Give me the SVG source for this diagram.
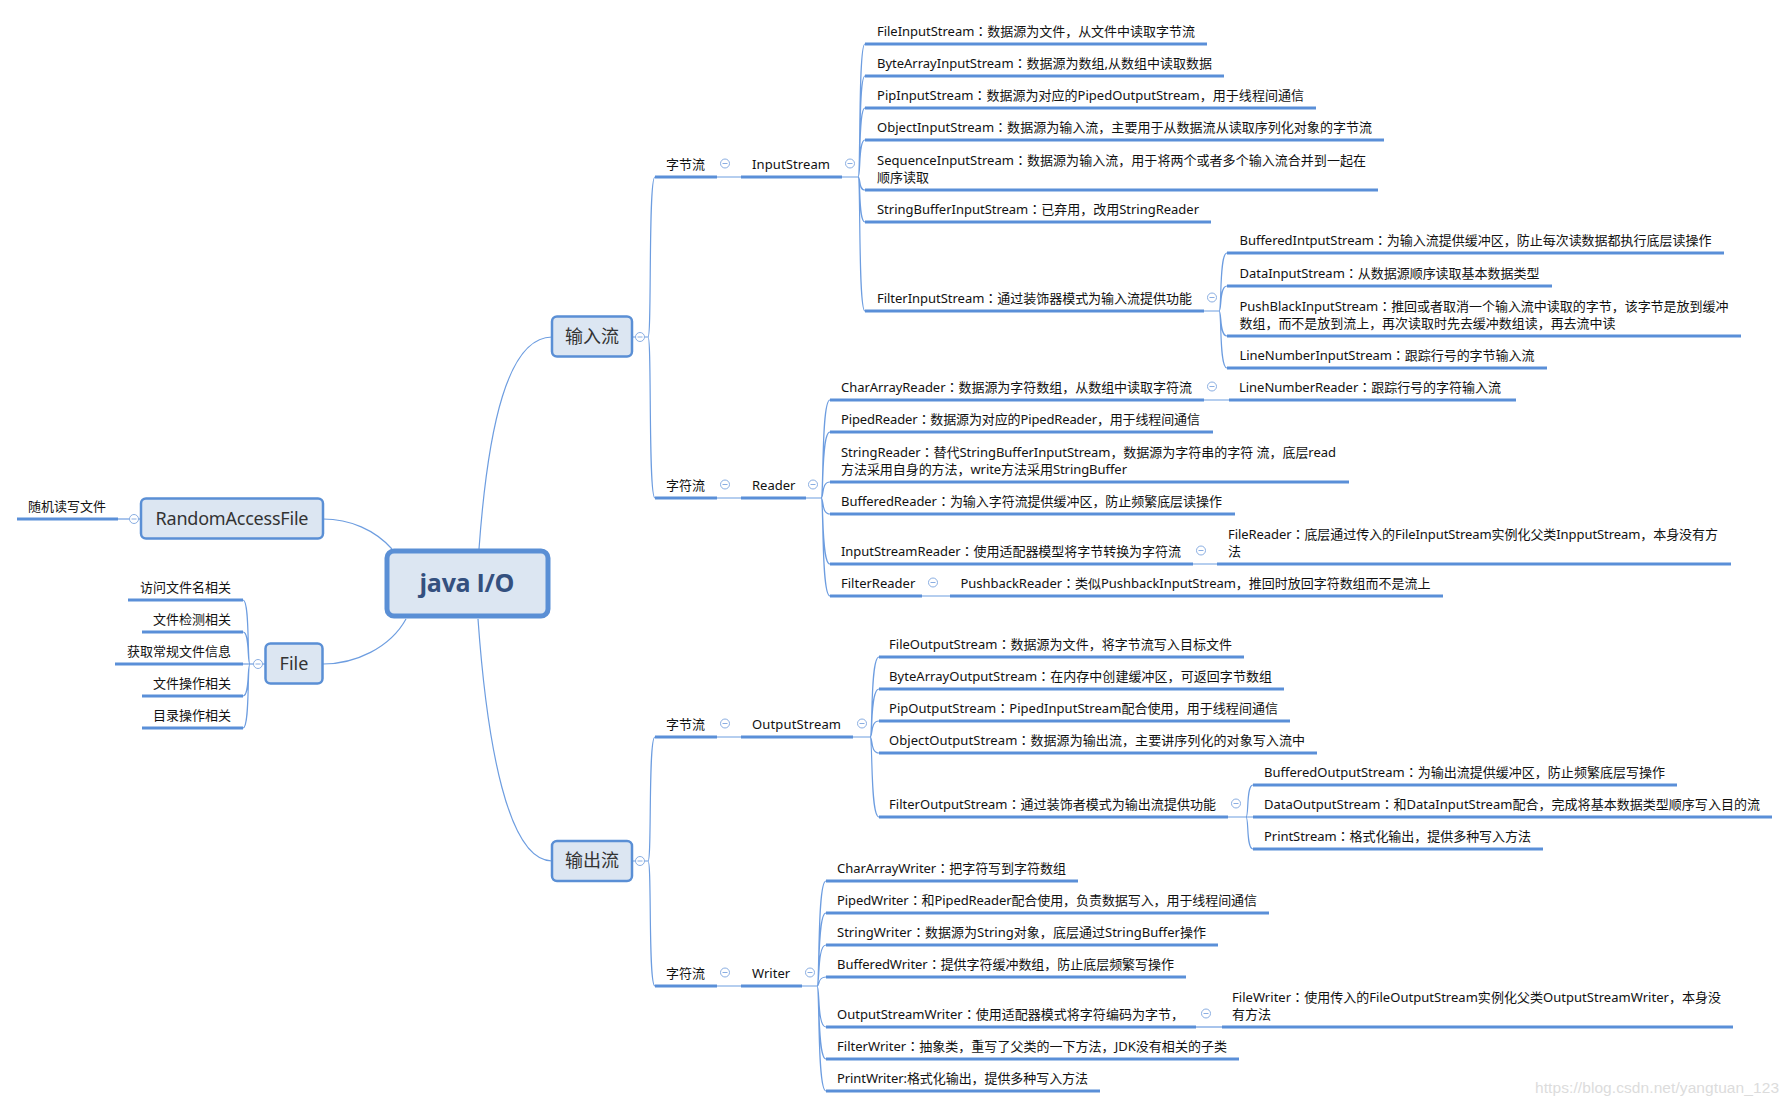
<svg xmlns="http://www.w3.org/2000/svg" xmlns:xlink="http://www.w3.org/1999/xlink" width="1790" height="1108" viewBox="0 0 1790 1108">
<style>
.ul{stroke:#5a8fd8;stroke-width:3}
.cn{fill:none;stroke:#6d9de0;stroke-width:1.2}
.tx{font-family:"Noto Sans","Noto Sans CJK SC",sans-serif;font-size:13px;fill:#111}
.p{font-family:"Noto Sans CJK TC","Noto Sans CJK SC",sans-serif}
.bx{fill:#dce6f2;stroke:#5a8fd5;stroke-width:2.5}
.bt{font-family:"Noto Sans","Noto Sans CJK SC",sans-serif;font-size:18px;fill:#333;text-anchor:middle}
.end{text-anchor:end}
.wm{font-family:"Liberation Sans",Arial,sans-serif;font-size:15.5px;fill:#dcdcdc}
</style>
<defs>
<g id="b"><circle cx="0" cy="0" r="4.5" fill="#fff" stroke="#8aaee2" stroke-width="1"/><line x1="-2.5" y1="0" x2="2.5" y2="0" stroke="#8aaee2" stroke-width="1"/></g>
</defs>
<rect width="1790" height="1108" fill="#fff"/>
<g id="connectors">
<path class="cn" d="M479,549 C488,425 508,337 552,337"/>
<path class="cn" d="M478,619 C487,745 508,861 552,861"/>
<path class="cn" d="M323,519 C350,519 375,530 392,549"/>
<path class="cn" d="M323,664 C355,664 390,648 406,619"/>
<path class="cn" d="M118,519 L141,519"/>
<path class="cn" d="M265,664 L243,664"/>
<path class="cn" d="M250,664 C247,664 250,600 243,600 M250,664 C247,664 250,632 243,632 M250,664 C247,664 250,696 243,696 M250,664 C247,664 250,728 243,728"/>
<path class="cn" d="M633,337 L648,337 M648,337 C652,337 648,177 655,177 M648,337 C652,337 648,498 655,498"/>
<path class="cn" d="M633,861 L648,861 M648,861 C652,861 648,737 655,737 M648,861 C652,861 648,986 655,986"/>
<path class="cn" d="M717,177 L741,177 M717,498 L741,498 M717,737 L741,737 M717,986 L741,986"/>
<path class="cn" d="M842,177 L858,177 M858,177 C861,177 858,44 865,44 M858,177 C861,177 858,76 865,76 M858,177 C861,177 858,108 865,108 M858,177 C861,177 858,140 865,140 M858,177 C861,177 858,190 865,190 M858,177 C861,177 858,222 865,222 M858,177 C861,177 858,311 865,311"/>
<path class="cn" d="M1204,311 L1219,311 M1219,311 C1222,311 1219,253 1227,253 M1219,311 C1222,311 1219,286 1227,286 M1219,311 C1222,311 1219,336 1227,336 M1219,311 C1222,311 1219,368 1227,368"/>
<path class="cn" d="M806,498 L821,498 M821,498 C824,498 821,400 830,400 M821,498 C824,498 821,432 830,432 M821,498 C824,498 821,482 830,482 M821,498 C824,498 821,514 830,514 M821,498 C824,498 821,564 830,564 M821,498 C824,498 821,596 830,596"/>
<path class="cn" d="M1204,400 L1229,400 M1193,564 L1217,564 M922,596 L950,596"/>
<path class="cn" d="M853,737 L870,737 M870,737 C873,737 870,657 879,657 M870,737 C873,737 870,689 879,689 M870,737 C873,737 870,721 879,721 M870,737 C873,737 870,753 879,753 M870,737 C873,737 870,817 879,817"/>
<path class="cn" d="M1228,817 L1253,817 M1246,817 C1249,817 1246,785 1253,785 M1246,817 C1249,817 1246,849 1253,849"/>
<path class="cn" d="M802,986 L817,986 M817,986 C820,986 817,881 826,881 M817,986 C820,986 817,913 826,913 M817,986 C820,986 817,945 826,945 M817,986 C820,986 817,977 826,977 M817,986 C820,986 817,1027 826,1027 M817,986 C820,986 817,1059 826,1059 M817,986 C820,986 817,1091 826,1091"/>
<path class="cn" d="M1196,1027 L1222,1027"/>
</g>

<g id="node-java">
<rect x="387" y="551" width="161" height="65" rx="7" fill="#dce6f2" stroke="#5a8fd5" stroke-width="5"/>
<text x="467" y="592" text-anchor="middle" font-family="'Open Sans','Noto Sans',sans-serif" font-weight="bold" font-size="25" fill="#34507f" textLength="95">java I/O</text>
</g>
<g id="node-input"><rect class="bx" x="552" y="316.5" width="80" height="40" rx="5"/><text class="bt" x="592" y="343">输入流</text><use xlink:href="#b" x="640" y="337"/></g>
<g id="node-output"><rect class="bx" x="552" y="841" width="80" height="40" rx="5"/><text class="bt" x="592" y="867">输出流</text><use xlink:href="#b" x="640" y="861"/></g>
<g id="node-raf"><rect class="bx" x="141" y="498.5" width="182" height="40" rx="5"/><text class="bt" x="232" y="524.5" textLength="153">RandomAccessFile</text><use xlink:href="#b" x="134" y="519"/></g>
<g id="node-file"><rect class="bx" x="265.5" y="643.5" width="57" height="40" rx="5"/><text class="bt" x="294" y="670">File</text><use xlink:href="#b" x="258" y="664"/></g>

<g id="node-raf-1"><line class="ul" x1="17" y1="519" x2="118" y2="519"/><text class="tx" x="28" y="511">随机读写文件</text></g>
<g id="node-file-1"><line class="ul" x1="128" y1="600" x2="243" y2="600"/><text class="tx end" x="231" y="592">访问文件名相关</text></g>
<g id="node-file-2"><line class="ul" x1="142" y1="632" x2="243" y2="632"/><text class="tx end" x="231" y="624">文件检测相关</text></g>
<g id="node-file-3"><line class="ul" x1="115" y1="664" x2="243" y2="664"/><text class="tx end" x="231" y="656">获取常规文件信息</text></g>
<g id="node-file-4"><line class="ul" x1="142" y1="696" x2="243" y2="696"/><text class="tx end" x="231" y="688">文件操作相关</text></g>
<g id="node-file-5"><line class="ul" x1="142" y1="728" x2="243" y2="728"/><text class="tx end" x="231" y="720">目录操作相关</text></g>

<g id="node-in-byte"><line class="ul" x1="655" y1="177" x2="717" y2="177"/><text class="tx" x="666" y="169">字节流</text><use xlink:href="#b" x="725" y="163.5"/></g>
<g id="node-inputstream"><line class="ul" x1="741" y1="177" x2="842" y2="177"/><text class="tx" x="752" y="169" textLength="78">InputStream</text><use xlink:href="#b" x="850" y="163.5"/></g>
<g id="node-fis"><line class="ul" x1="865" y1="44" x2="1207" y2="44"/><text class="tx" x="877" y="36" textLength="318">FileInputStream<tspan class="p">：</tspan>数据源为文件，从文件中读取字节流</text></g>
<g id="node-bais"><line class="ul" x1="865" y1="76" x2="1224" y2="76"/><text class="tx" x="877" y="68" textLength="335">ByteArrayInputStream<tspan class="p">：</tspan>数据源为数组,从数组中读取数据</text></g>
<g id="node-pis"><line class="ul" x1="865" y1="108" x2="1316" y2="108"/><text class="tx" x="877" y="100" textLength="427">PipInputStream<tspan class="p">：</tspan>数据源为对应的PipedOutputStream，用于线程间通信</text></g>
<g id="node-ois"><line class="ul" x1="865" y1="140" x2="1384" y2="140"/><text class="tx" x="877" y="132" textLength="495">ObjectInputStream<tspan class="p">：</tspan>数据源为输入流，主要用于从数据流从读取序列化对象的字节流</text></g>
<g id="node-sis"><line class="ul" x1="865" y1="190" x2="1378" y2="190"/><text class="tx"><tspan x="877" y="165" textLength="489">SequenceInputStream<tspan class="p">：</tspan>数据源为输入流，用于将两个或者多个输入流合并到一起在</tspan><tspan x="877" y="182">顺序读取</tspan></text></g>
<g id="node-sbis"><line class="ul" x1="865" y1="222" x2="1211" y2="222"/><text class="tx" x="877" y="214" textLength="322">StringBufferInputStream<tspan class="p">：</tspan>已弃用，改用StringReader</text></g>
<g id="node-filteris"><line class="ul" x1="865" y1="311" x2="1204" y2="311"/><text class="tx" x="877" y="303" textLength="315">FilterInputStream<tspan class="p">：</tspan>通过装饰器模式为输入流提供功能</text><use xlink:href="#b" x="1212" y="297.5"/></g>
<g id="node-bis"><line class="ul" x1="1227" y1="253" x2="1724" y2="253"/><text class="tx" x="1239.5" y="245" textLength="472">BufferedIntputStream<tspan class="p">：</tspan>为输入流提供缓冲区，防止每次读数据都执行底层读操作</text></g>
<g id="node-dis"><line class="ul" x1="1227" y1="286" x2="1552" y2="286"/><text class="tx" x="1239.5" y="278" textLength="300">DataInputStream<tspan class="p">：</tspan>从数据源顺序读取基本数据类型</text></g>
<g id="node-pbis"><line class="ul" x1="1227" y1="336" x2="1741" y2="336"/><text class="tx"><tspan x="1239.5" y="311" textLength="489">PushBlackInputStream<tspan class="p">：</tspan>推回或者取消一个输入流中读取的字节，该字节是放到缓冲</tspan><tspan x="1239.5" y="328" textLength="376">数组，而不是放到流上，再次读取时先去缓冲数组读，再去流中读</tspan></text></g>
<g id="node-lnis"><line class="ul" x1="1227" y1="368" x2="1547" y2="368"/><text class="tx" x="1239.5" y="360" textLength="295">LineNumberInputStream<tspan class="p">：</tspan>跟踪行号的字节输入流</text></g>

<g id="node-in-char"><line class="ul" x1="655" y1="498" x2="717" y2="498"/><text class="tx" x="666" y="490">字符流</text><use xlink:href="#b" x="725" y="484.5"/></g>
<g id="node-reader"><line class="ul" x1="741" y1="498" x2="806" y2="498"/><text class="tx" x="752" y="490">Reader</text><use xlink:href="#b" x="813" y="484.5"/></g>
<g id="node-car"><line class="ul" x1="830" y1="400" x2="1204" y2="400"/><text class="tx" x="841" y="392" textLength="351">CharArrayReader<tspan class="p">：</tspan>数据源为字符数组，从数组中读取字符流</text><use xlink:href="#b" x="1212" y="386.5"/></g>
<g id="node-lnr"><line class="ul" x1="1229" y1="400" x2="1516" y2="400"/><text class="tx" x="1239" y="392" textLength="262">LineNumberReader<tspan class="p">：</tspan>跟踪行号的字符输入流</text></g>
<g id="node-pr"><line class="ul" x1="830" y1="432" x2="1213" y2="432"/><text class="tx" x="841" y="424" textLength="359">PipedReader<tspan class="p">：</tspan>数据源为对应的PipedReader，用于线程间通信</text></g>
<g id="node-sr"><line class="ul" x1="830" y1="482" x2="1349" y2="482"/><text class="tx"><tspan x="841" y="457" textLength="495">StringReader<tspan class="p">：</tspan>替代StringBufferInputStream，数据源为字符串的字符 流，底层read</tspan><tspan x="841" y="474" textLength="286">方法采用自身的方法，write方法采用StringBuffer</tspan></text></g>
<g id="node-br"><line class="ul" x1="830" y1="514" x2="1235" y2="514"/><text class="tx" x="841" y="506" textLength="381">BufferedReader<tspan class="p">：</tspan>为输入字符流提供缓冲区，防止频繁底层读操作</text></g>
<g id="node-isr"><line class="ul" x1="830" y1="564" x2="1193" y2="564"/><text class="tx" x="841" y="556" textLength="340">InputStreamReader<tspan class="p">：</tspan>使用适配器模型将字节转换为字符流</text><use xlink:href="#b" x="1201" y="550.5"/></g>
<g id="node-fr"><line class="ul" x1="1217" y1="564" x2="1731" y2="564"/><text class="tx"><tspan x="1228" y="539" textLength="490">FileReader<tspan class="p">：</tspan>底层通过传入的FileInputStream实例化父类InpputStream，本身没有方</tspan><tspan x="1228" y="556">法</tspan></text></g>
<g id="node-filterr"><line class="ul" x1="830" y1="596" x2="922" y2="596"/><text class="tx" x="841" y="588">FilterReader</text><use xlink:href="#b" x="933" y="582.5"/></g>
<g id="node-pbr"><line class="ul" x1="950" y1="596" x2="1443" y2="596"/><text class="tx" x="960.5" y="588" textLength="470">PushbackReader<tspan class="p">：</tspan>类似PushbackInputStream，推回时放回字符数组而不是流上</text></g>

<g id="node-out-byte"><line class="ul" x1="655" y1="737" x2="717" y2="737"/><text class="tx" x="666" y="729">字节流</text><use xlink:href="#b" x="725" y="723.5"/></g>
<g id="node-outputstream"><line class="ul" x1="741" y1="737" x2="853" y2="737"/><text class="tx" x="752" y="729" textLength="89">OutputStream</text><use xlink:href="#b" x="862" y="723.5"/></g>
<g id="node-fos"><line class="ul" x1="879" y1="657" x2="1244" y2="657"/><text class="tx" x="889" y="649" textLength="343">FileOutputStream<tspan class="p">：</tspan>数据源为文件，将字节流写入目标文件</text></g>
<g id="node-baos"><line class="ul" x1="879" y1="689" x2="1284" y2="689"/><text class="tx" x="889" y="681" textLength="383">ByteArrayOutputStream<tspan class="p">：</tspan>在内存中创建缓冲区，可返回字节数组</text></g>
<g id="node-pos"><line class="ul" x1="879" y1="721" x2="1290" y2="721"/><text class="tx" x="889" y="713" textLength="389">PipOutputStream<tspan class="p">：</tspan>PipedInputStream配合使用，用于线程间通信</text></g>
<g id="node-oos"><line class="ul" x1="879" y1="753" x2="1317" y2="753"/><text class="tx" x="889" y="745" textLength="416">ObjectOutputStream<tspan class="p">：</tspan>数据源为输出流，主要讲序列化的对象写入流中</text></g>
<g id="node-filteros"><line class="ul" x1="879" y1="817" x2="1228" y2="817"/><text class="tx" x="889" y="809" textLength="327">FilterOutputStream<tspan class="p">：</tspan>通过装饰者模式为输出流提供功能</text><use xlink:href="#b" x="1236" y="803.5"/></g>
<g id="node-bos"><line class="ul" x1="1253" y1="785" x2="1677" y2="785"/><text class="tx" x="1264" y="777" textLength="401">BufferedOutputStream<tspan class="p">：</tspan>为输出流提供缓冲区，防止频繁底层写操作</text></g>
<g id="node-dos"><line class="ul" x1="1253" y1="817" x2="1772" y2="817"/><text class="tx" x="1264" y="809" textLength="496">DataOutputStream<tspan class="p">：</tspan>和DataInputStream配合，完成将基本数据类型顺序写入目的流</text></g>
<g id="node-ps"><line class="ul" x1="1253" y1="849" x2="1543" y2="849"/><text class="tx" x="1264" y="841" textLength="267">PrintStream<tspan class="p">：</tspan>格式化输出，提供多种写入方法</text></g>

<g id="node-out-char"><line class="ul" x1="655" y1="986" x2="717" y2="986"/><text class="tx" x="666" y="978">字符流</text><use xlink:href="#b" x="725" y="972.5"/></g>
<g id="node-writer"><line class="ul" x1="741" y1="986" x2="802" y2="986"/><text class="tx" x="752" y="978">Writer</text><use xlink:href="#b" x="810" y="972.5"/></g>
<g id="node-caw"><line class="ul" x1="826" y1="881" x2="1078" y2="881"/><text class="tx" x="837" y="873" textLength="229">CharArrayWriter<tspan class="p">：</tspan>把字符写到字符数组</text></g>
<g id="node-pw"><line class="ul" x1="826" y1="913" x2="1269" y2="913"/><text class="tx" x="837" y="905" textLength="420">PipedWriter<tspan class="p">：</tspan>和PipedReader配合使用，负责数据写入，用于线程间通信</text></g>
<g id="node-sw"><line class="ul" x1="826" y1="945" x2="1218" y2="945"/><text class="tx" x="837" y="937" textLength="369">StringWriter<tspan class="p">：</tspan>数据源为String对象，底层通过StringBuffer操作</text></g>
<g id="node-bw"><line class="ul" x1="826" y1="977" x2="1186" y2="977"/><text class="tx" x="837" y="969" textLength="337">BufferedWriter<tspan class="p">：</tspan>提供字符缓冲数组，防止底层频繁写操作</text></g>
<g id="node-osw"><line class="ul" x1="826" y1="1027" x2="1196" y2="1027"/><text class="tx" x="837" y="1019" textLength="347">OutputStreamWriter<tspan class="p">：</tspan>使用适配器模式将字符编码为字节，</text><use xlink:href="#b" x="1206" y="1013.5"/></g>
<g id="node-fw"><line class="ul" x1="1222" y1="1027" x2="1733" y2="1027"/><text class="tx"><tspan x="1232" y="1002" textLength="489">FileWriter<tspan class="p">：</tspan>使用传入的FileOutputStream实例化父类OutputStreamWriter，本身没</tspan><tspan x="1232" y="1019">有方法</tspan></text></g>
<g id="node-filterw"><line class="ul" x1="826" y1="1059" x2="1239" y2="1059"/><text class="tx" x="837" y="1051" textLength="390">FilterWriter<tspan class="p">：</tspan>抽象类，重写了父类的一下方法，JDK没有相关的子类</text></g>
<g id="node-printw"><line class="ul" x1="826" y1="1091" x2="1100" y2="1091"/><text class="tx" x="837" y="1083" textLength="251">PrintWriter:格式化输出，提供多种写入方法</text></g>

<text class="wm" x="1535" y="1093" textLength="244">https://blog.csdn.net/yangtuan_123</text>
</svg>
